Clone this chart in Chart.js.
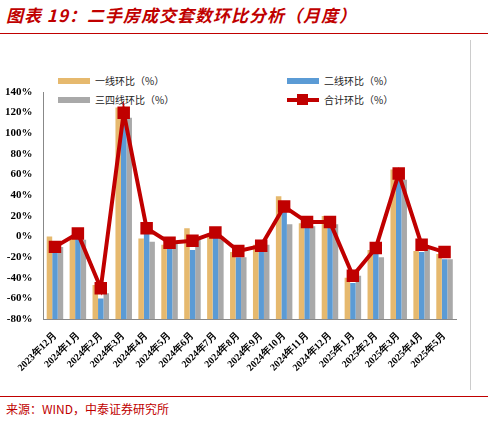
<!DOCTYPE html>
<html><head><meta charset="utf-8">
<script src="https://cdn.jsdelivr.net/npm/chart.js@4"></script>
<style>
body{margin:0;width:488px;height:422px;background:#fff;font-family:"Noto Sans CJK SC",serif;position:relative;overflow:hidden}
#title{position:absolute;left:6px;top:2px;color:#c00000;font-size:17px;font-style:italic;font-weight:bold;letter-spacing:1px}
#tline{position:absolute;left:0;top:33px;width:488px;height:1px;background:#c00000}
#bline{position:absolute;left:0;top:396px;width:488px;height:1px;background:#c00000}
#src{position:absolute;left:6px;top:400px;color:#c00000;font-size:12px}
#wrap{position:absolute;left:2px;top:82px;width:466px;height:295px}
#rb{position:absolute;left:470px;top:40px;width:1px;height:350px;background:#ccc}
.lg{position:absolute;font-size:10px;color:#222;display:flex;align-items:center}
.sw{width:32px;height:6px;margin-right:5px}
</style></head><body>
<div id="title">图表 19：二手房成交套数环比分析（月度）</div>
<div id="tline"></div>
<div class="lg" style="left:58px;top:73px"><span class="sw" style="background:#e6b96e"></span>一线环比（%）</div>
<div class="lg" style="left:58px;top:92px"><span class="sw" style="background:#a9a9a9"></span>三四线环比（%）</div>
<div class="lg" style="left:287px;top:73px"><span class="sw" style="background:#5b9bd5"></span>二线环比（%）</div>
<div class="lg" style="left:287px;top:92px"><span style="width:32px;height:4px;background:#c00000;margin-right:5px;position:relative"><span style="position:absolute;left:10px;top:-4px;width:11px;height:11px;background:#c00000"></span></span>合计环比（%）</div>
<div id="wrap"><canvas id="c"></canvas></div>
<div id="rb"></div>
<div id="bline"></div>
<div id="src">来源：WIND，中泰证券研究所</div>
<script>
const labels=['2023年12月','2024年1月','2024年2月','2024年3月','2024年4月','2024年5月','2024年6月','2024年7月','2024年8月','2024年9月','2024年10月','2024年11月','2024年12月','2025年1月','2025年2月','2025年3月','2025年4月','2025年5月'];
const tier1=[0,-2,-47,125,-2,-8,8,3,-15,-8,39,13,20,-40,-13,65,-14,-17];
const tier2=[-15,-2,-60,108,5,-10,-13,3,-20,-12,25,10,15,-45,-15,58,-15,-22];
const tier3=[-10,-3,-55,115,-5,-5,-3,0,-20,-8,12,10,12,-38,-20,55,-10,-22];
const total=[-10,3,-50,120,8,-6,-4,4,-14,-9,29,14,14,-38,-11,61,-8,-15];
const yTicks=[-80,-60,-40,-20,0,20,40,60,80,100,120,140];
Chart.defaults.font.family='"Liberation Serif",serif';
Chart.defaults.color='#000';
const bar=(d,c)=>({type:'bar',data:d,base:-80,backgroundColor:c,categoryPercentage:0.72,barPercentage:1,order:1});
new Chart(document.getElementById('c'),{
  data:{labels,datasets:[
    {type:'line',data:total,borderColor:'#c00000',backgroundColor:'#c00000',borderWidth:4,pointStyle:'rect',pointRadius:6,order:0},
    bar(tier1,'#e6b96e'),bar(tier2,'#5b9bd5'),bar(tier3,'#a9a9a9')
  ]},
  options:{responsive:true,maintainAspectRatio:false,animation:false,
    layout:{padding:{top:4,right:12,left:0}},
    plugins:{legend:{display:false},tooltip:{enabled:false}},
    scales:{
      x:{grid:{display:false,drawTicks:true},border:{color:'#888'},ticks:{maxRotation:45,minRotation:45,font:{size:10,weight:'bold'},autoSkip:false}},
      y:{min:-80,max:140,afterBuildTicks:a=>{a.ticks=yTicks.map(v=>({value:v}))},grid:{display:false,drawTicks:true},border:{color:'#888'},ticks:{font:{size:11,weight:'bold'},callback:v=>v+'%'}}
    }}
});
</script></body></html>
